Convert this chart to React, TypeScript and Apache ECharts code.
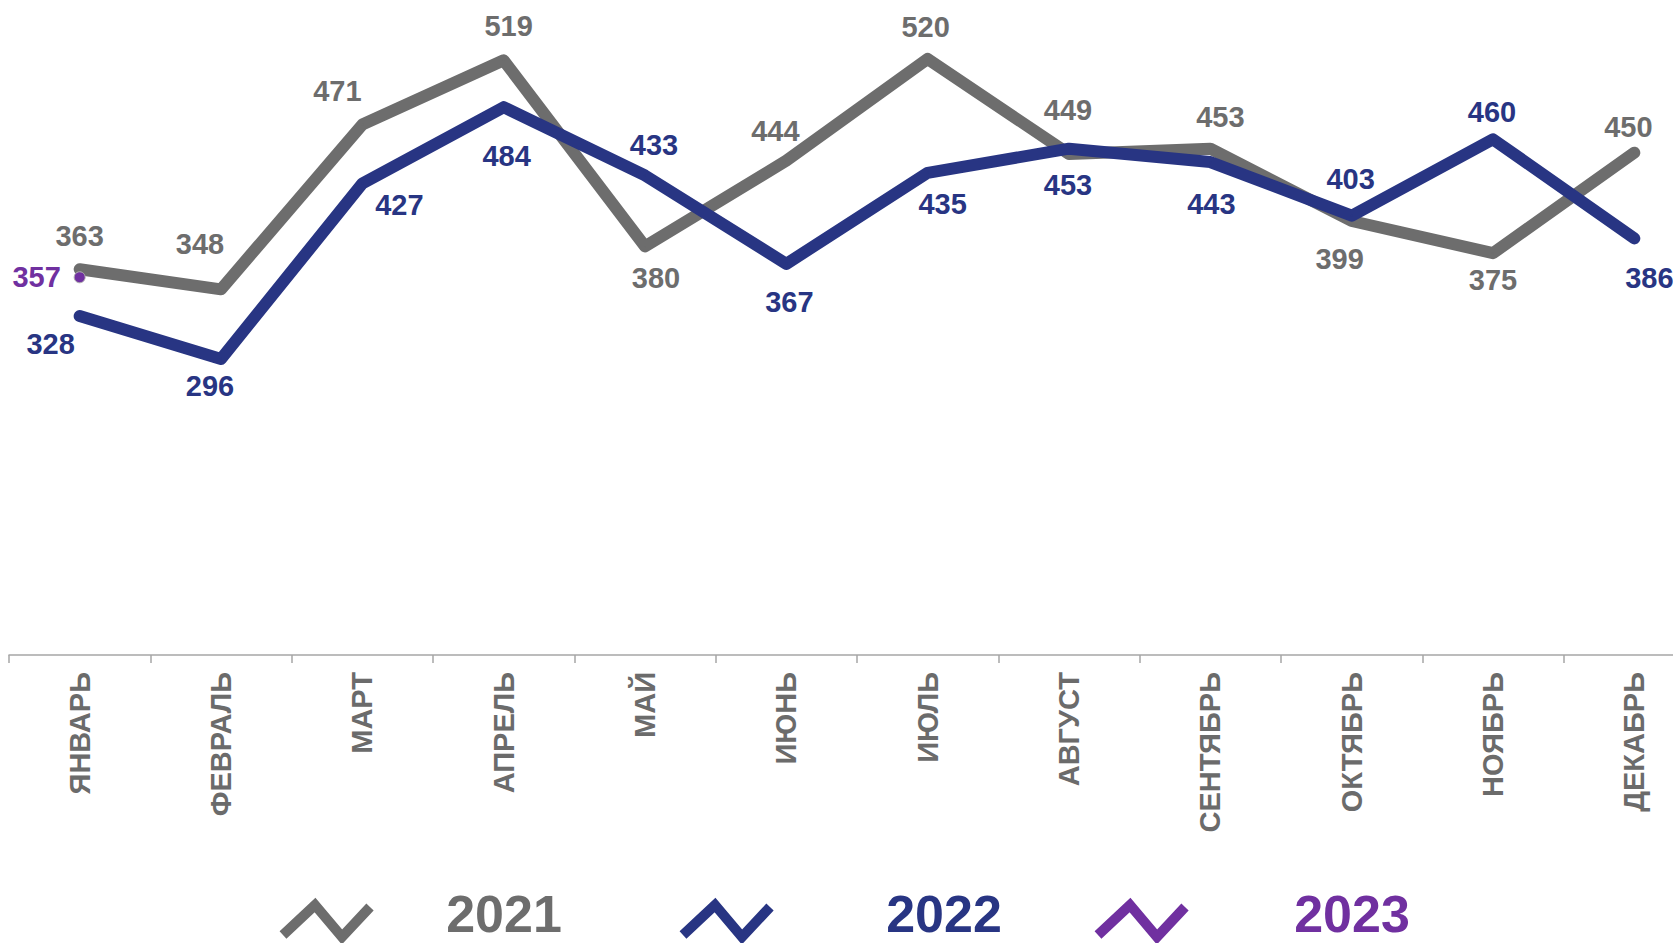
import React, { useEffect, useRef } from "react";
import * as echarts from "echarts";

const months = ["ЯНВАРЬ", "ФЕВРАЛЬ", "МАРТ", "АПРЕЛЬ", "МАЙ", "ИЮНЬ", "ИЮЛЬ", "АВГУСТ", "СЕНТЯБРЬ", "ОКТЯБРЬ", "НОЯБРЬ", "ДЕКАБРЬ"];
const seriesNames = ["2021", "2022", "2023"];
const values2021 = [363, 348, 471, 519, 380, 444, 520, 449, 453, 399, 375, 450];
const values2022 = [328, 296, 427, 484, 433, 367, 435, 453, 443, 403, 460, 386];
const values2023: (number | null)[] = [357, null, null, null, null, null, null, null, null, null, null, null];

const colors = ["#6d6d6d", "#283583", "#7030a0"];

// label offsets (style only)
const offs2021 = [[0, -33], [-21, -45], [-25, -34], [5, -34], [11, 32], [-11, -30], [-2, -32], [-1, -44], [10, -32], [-12, 38], [0, 27], [-6, -26]];
const offs2022 = [[-29, 28], [-11, 27], [37, 21], [3, 49], [9, -30], [3, 38], [15, 31], [-1, 36], [1, 42], [-1, -37], [-1, -27], [15, 40]];
const offs2023 = [[-43, 0]];

const FONT = "'Liberation Sans', Arial, sans-serif";
const CHART_W = 1712;

export default function App() {
  const ref = useRef<HTMLDivElement>(null);
  useEffect(() => {
    document.body.style.margin = "0";
    const chart = echarts.init(ref.current!, null, { renderer: "svg" });
    const mk = (vals: (number | null)[], offs: number[][]) =>
      vals.map((v, i) => ({ value: v, label: { offset: offs[i] || [0, 0] } }));
    const labelStyle = (c: string) => ({
      show: true,
      position: "inside",
      color: c,
      fontSize: 29,
      fontWeight: "bold",
      fontFamily: FONT,
      align: "center",
      verticalAlign: "middle",
    });
    const iconXs = [283, 683, 1098];
    const textXs = [504, 944, 1352];
    const graphics: any[] = [];
    seriesNames.forEach((n, k) => {
      const x0 = iconXs[k];
      graphics.push({
        type: "polyline",
        shape: { points: [[x0, 935], [x0 + 32, 905], [x0 + 59, 937], [x0 + 87, 907]] },
        style: { stroke: colors[k], lineWidth: 10, fill: null, lineJoin: "miter", lineCap: "butt" },
      });
      graphics.push({
        type: "text",
        x: textXs[k],
        y: 914,
        style: {
          text: n,
          fill: colors[k],
          font: `bold 52px ${FONT}`,
          align: "center",
          verticalAlign: "middle",
        },
      });
    });
    chart.setOption({
      animation: false,
      grid: { left: 9, top: 0, width: 1696, height: 655 },
      xAxis: {
        type: "category",
        data: months,
        boundaryGap: true,
        axisLine: { onZero: false, lineStyle: { color: "#a6a6a6", width: 1.5 } },
        axisTick: { show: true, length: 8, lineStyle: { color: "#a6a6a6", width: 1.5 } },
        axisLabel: {
          rotate: 90,
          margin: 17,
          fontSize: 29,
          fontWeight: "bold",
          color: "#6b6b6b",
          fontFamily: FONT,
          interval: 0,
        },
        splitLine: { show: false },
      },
      yAxis: { type: "value", min: 75, max: 564, show: false },
      series: [
        {
          name: seriesNames[0],
          type: "line",
          data: mk(values2021, offs2021),
          symbol: "circle",
          symbolSize: 2,
          itemStyle: { color: colors[0] },
          lineStyle: { color: colors[0], width: 12, cap: "round", join: "round" },
          label: labelStyle(colors[0]),
          z: 2,
        },
        {
          name: seriesNames[1],
          type: "line",
          data: mk(values2022, offs2022),
          symbol: "circle",
          symbolSize: 2,
          itemStyle: { color: colors[1] },
          lineStyle: { color: colors[1], width: 12, cap: "round", join: "round" },
          label: labelStyle(colors[1]),
          z: 3,
        },
        {
          name: seriesNames[2],
          type: "line",
          data: mk(values2023, offs2023),
          symbol: "circle",
          symbolSize: 11,
          itemStyle: { color: colors[2], borderColor: "#b0b0b0", borderWidth: 1 },
          lineStyle: { color: colors[2], width: 12 },
          label: labelStyle(colors[2]),
          z: 4,
        },
      ],
      graphic: graphics,
    });
    return () => chart.dispose();
  }, []);
  return (
    <div style={{ width: 1673, height: 943, overflow: "hidden", position: "relative" }}>
      <div ref={ref} style={{ width: CHART_W, height: 943 }} />
    </div>
  );
}
